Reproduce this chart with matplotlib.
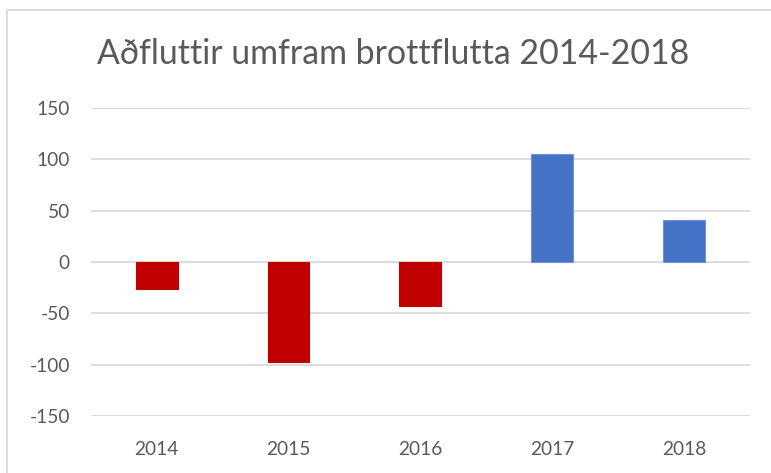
import matplotlib
matplotlib.use("Agg")
import matplotlib.pyplot as plt
from matplotlib.patches import Rectangle

categories = ["2014", "2015", "2016", "2017", "2018"]
values = [-26, -97, -43, 105, 41]
yticks = [-150, -100, -50, 0, 50, 100, 150]
title = "Aðfluttir umfram brottflutta 2014-2018"

plt.rcParams['font.family'] = ['Lato', 'DejaVu Sans']

W, H = 771, 473
fig = plt.figure(figsize=(W / 100, H / 100), dpi=100)
fig.patch.set_facecolor('white')

# outer chart border (left/top visible)
fig.patches.append(Rectangle((7 / W, -0.2), 1.2, 1.2 - 10 / H, transform=fig.transFigure,
                             fill=False, edgecolor='#d9d9d9', linewidth=1.3))

ax = fig.add_axes([90.7 / W, 1 - 416 / H, (750 - 90.7) / W, (416 - 108) / H])
colors = ['#C00000' if v < 0 else '#4472C4' for v in values]
edges = ['#C00000' if v < 0 else '#6F93D6' for v in values]
x = list(range(len(categories)))
ax.bar(x, values, width=0.318, color=colors, edgecolor=edges, linewidth=0.8, zorder=3)

ax.set_xlim(-0.5, len(categories) - 0.5)
ax.set_ylim(-150, 150)
ax.set_yticks(yticks)
ax.set_yticklabels([str(t) for t in yticks])
ax.set_xticks(x)
ax.set_xticklabels(categories)
ax.yaxis.grid(True, color='#d9d9d9', linewidth=1.3, zorder=0)
ax.set_axisbelow(True)
for s in ax.spines.values():
    s.set_visible(False)
ax.tick_params(axis='both', length=0, labelsize=13.8, labelcolor='#595959')
ax.tick_params(axis='y', pad=15)
ax.tick_params(axis='x', pad=18)

fig.text(0.5 * (97 + 690) / W, 1 - 54 / H, title, ha='center', va='center',
         fontsize=24.4, color='#595959')

fig.savefig('out.png', dpi=100)
